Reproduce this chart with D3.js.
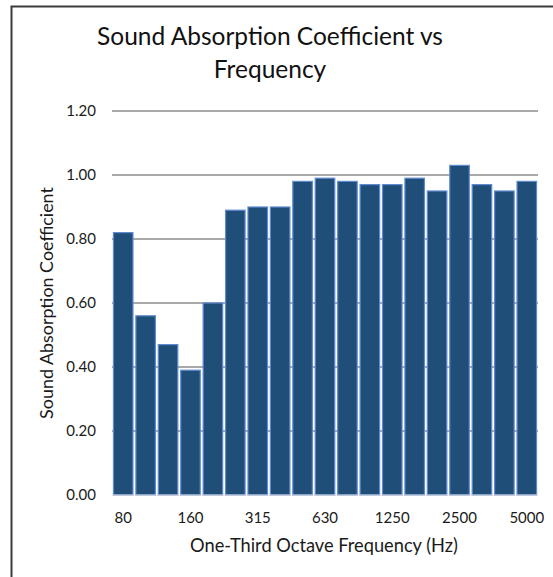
<!DOCTYPE html>
<html><head><meta charset="utf-8">
<script src="https://cdn.jsdelivr.net/npm/d3@7/dist/d3.min.js"></script>
<style>html,body{margin:0;padding:0;background:#fff;overflow:hidden}::-webkit-scrollbar{display:none}svg{display:block}</style>
</head><body>
<script>
const categories = ["80","100","125","160","200","250","315","400","500","630","800","1000","1250","1600","2000","2500","3150","4000","5000"];
const values = [0.82,0.56,0.47,0.39,0.60,0.89,0.90,0.90,0.98,0.99,0.98,0.97,0.97,0.99,0.95,1.03,0.97,0.95,0.98];
const shownTicks = ["80","160","315","630","1250","2500","5000"];
const yTicks = [0,0.2,0.4,0.6,0.8,1.0,1.2];
const titleLines = ["Sound Absorption Coefficient vs","Frequency"];
const xLabel = "One-Third Octave Frequency (Hz)";
const yLabel = "Sound Absorption Coefficient";

const W=553,H=577;
const svg=d3.select("body").append("svg").attr("width",W).attr("height",H);
svg.append("rect").attr("width",W).attr("height",H).attr("fill","#fff");
const font="Lato, 'Open Sans', sans-serif";
const txt="#1a1a1a";

svg.append("path").attr("d","M11.5,577 L11.5,6.5 L553,6.5").attr("fill","none").attr("stroke","#3a3a3a").attr("stroke-width",2);

const x=d3.scaleBand().domain(categories).range([112,538]).paddingInner(0.13).paddingOuter(0.065);
const y=d3.scaleLinear().domain([0,1.2]).range([495,111]);

const g=svg.append("g");
g.selectAll("line.grid").data(yTicks.filter(d=>d>0)).join("line").attr("class","grid")
 .attr("x1",112).attr("x2",538).attr("y1",d=>y(d)).attr("y2",d=>y(d))
 .attr("stroke","#8c8c8c").attr("stroke-width",1.5);

g.selectAll("rect.bar").data(values).join("rect").attr("class","bar")
 .attr("x",(d,i)=>x(categories[i])).attr("width",x.bandwidth())
 .attr("y",d=>y(d)).attr("height",d=>y(0)-y(d))
 .attr("fill","#1f4e79").attr("stroke","#5f8ad0").attr("stroke-width",1.2);

g.append("line").attr("x1",112).attr("x2",538).attr("y1",y(0)).attr("y2",y(0)).attr("stroke","#d9d9d9").attr("stroke-width",1);

function fit(sel,target){const n=sel.node();const fs=+sel.attr("font-size");const w=n.getComputedTextLength();sel.attr("font-size",fs*target/w);}

// y axis
const ya=svg.append("g").attr("transform","translate(96,0)").call(d3.axisLeft(y).tickValues(yTicks).tickFormat(d3.format(".2f")).tickSize(0).tickPadding(0));
ya.select(".domain").remove();
ya.selectAll("text").attr("font-family",font).attr("font-size",15).attr("fill",txt);

// x axis
const xa=svg.append("g").attr("transform",`translate(0,${y(0)+17})`).call(d3.axisBottom(x).tickValues(shownTicks).tickSize(0).tickPadding(0));
xa.select(".domain").remove();
xa.selectAll("text").attr("font-family",font).attr("font-size",15).attr("fill",txt).attr("dy","0.71em");

// title
const tl=svg.selectAll("text.title").data(titleLines).join("text").attr("class","title")
 .attr("x",270).attr("y",(d,i)=>45+i*33).attr("text-anchor","middle")
 .attr("font-family",font).attr("font-size",24).attr("fill","#111").text(d=>d);
const t0=d3.select(tl.nodes()[0]); fit(t0,346); tl.attr("font-size",t0.attr("font-size"));

const xl=svg.append("text").attr("x",324).attr("y",552).attr("text-anchor","middle")
 .attr("font-family",font).attr("font-size",15).attr("fill",txt).text(xLabel);
fit(xl,268);
const yl=svg.append("text").attr("transform","translate(53,303) rotate(-90)").attr("text-anchor","middle")
 .attr("font-family",font).attr("font-size",15).attr("fill",txt).text(yLabel);
fit(yl,232);
</script>
</body></html>
